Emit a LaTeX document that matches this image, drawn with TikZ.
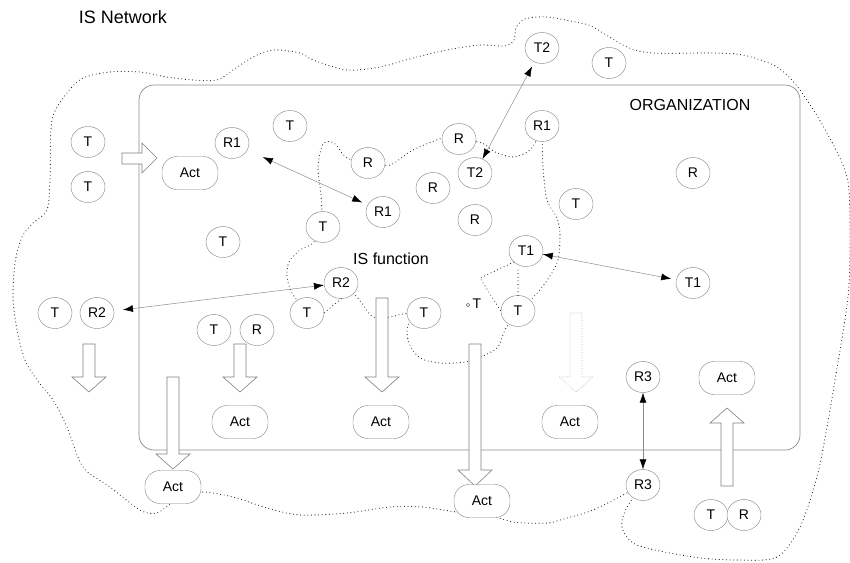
\documentclass[tikz,border=0pt]{standalone}
\usepackage{fontspec}
\setmainfont{Liberation Sans}
\usetikzlibrary{shapes.geometric, arrows.meta}

\tikzset{
  elem/.style={ellipse, draw=black!50, fill=white, minimum width=34pt, minimum height=31pt, inner sep=0pt, font=\fontsize{14}{16}\selectfont},
  actbox/.style={rectangle, rounded corners=15pt, draw=black!50, fill=white, minimum width=56pt, minimum height=33pt, font=\fontsize{14}{16}\selectfont},
  hollow/.style={draw=black!50, fill=white, line width=0.6pt, line join=miter},
  faint/.style={draw=black!25, densely dotted, fill=white, line width=0.6pt},
  link/.style={draw=black!45, line width=0.5pt, <->, >={Latex[length=10pt,width=7pt,color=black]}},
  border/.style={black!90, line width=1.1pt, line cap=round, dash pattern=on 0pt off 3.6pt},
}

\begin{document}
\begin{tikzpicture}[x=1pt, y=-1pt]
  \useasboundingbox (0,0) rectangle (850,562);

  % organization frame
  \draw[draw=black!45, line width=0.7pt, rounded corners=15pt] (139,85) rectangle (800,450);
  \node[font=\fontsize{16}{18}\selectfont] (org) at (690,105) {ORGANIZATION};
  \node[font=\fontsize{18}{20}\selectfont] (isnet) at (123,17) {IS Network};
  \node[font=\fontsize{16}{18}\selectfont] (isfun) at (391,259) {IS function};

  % network boundary
  \draw[border] plot[smooth] coordinates {(643,485) (627,493) (593,510) (560,520) (547,523) (513,522) (481,512)
    (457,512) (423,507) (390,507) (347,513) (300,515) (267,508) (233,497) (200,492) (176,500) (157,513)
    (140,510) (110,487) (83,467) (67,427) (53,400) (37,380) (25,360) (17,330) (13,297) (15,263) (22,237)
    (33,223) (47,210) (50,180) (52,120) (67,93) (83,78) (110,72) (140,72) (167,77) (193,80) (217,80)
    (233,70) (253,57) (273,50) (300,53) (313,60) (347,70) (380,67) (413,58) (447,50) (480,45) (505,46)
    (514,40) (516,28) (525,19) (547,17) (580,23) (593,27) (627,47) (653,53) (710,53) (743,55) (777,67)
    (800,90) (827,133) (847,177) (850,230) (848,297) (835,380) (827,427) (817,477) (800,527) (777,557)
    (737,560) (693,557) (637,545) (622,527) (627,507) (643,485)};

  % function boundary
  \draw[border] plot[smooth] coordinates {(323,227) (321,195) (318,167) (323,144) (334,143) (347,158) (368,163)};
  \draw[border] plot[smooth] coordinates {(368,163) (390,165) (413,150) (443,138) (459,139)};
  \draw[border] plot[smooth] coordinates {(459,139) (482,143) (495,152) (513,157) (530,150) (542,130)};
  \draw[border] plot[smooth] coordinates {(542,130) (543,167) (547,200) (557,218) (560,235) (557,263) (540,290) (518,311)};
  \draw[border] plot[smooth] coordinates {(518,311) (505,330) (498,347) (485,355) (465,362) (440,363) (420,358) (409,343) (408,325) (424,313)};
  \draw[border] plot[smooth] coordinates {(424,313) (403,314) (390,317) (373,317) (357,297) (341,283)};
  \draw[border] plot[smooth] coordinates {(307,313) (292,293) (287,277) (289,262) (300,250) (313,243) (323,227)};

  % hollow arrows
  \draw[hollow] (122,153) -- (142,153) -- (142,143) -- (157,158) -- (142,173) -- (142,164) -- (122,164) -- cycle;
  \draw[hollow] (83,344) -- (95,344) -- (95,377) -- (106,377) -- (89,392) -- (72,377) -- (83,377) -- cycle;
  \draw[hollow] (234,344) -- (246,344) -- (246,377) -- (257,377) -- (240,392) -- (223,377) -- (234,377) -- cycle;
  \draw[hollow] (167,377) -- (179,377) -- (179,454) -- (190,454) -- (173,469) -- (156,454) -- (167,454) -- cycle;
  \draw[hollow] (376,298) -- (388,298) -- (388,377) -- (399,377) -- (382,392) -- (365,377) -- (376,377) -- cycle;
  \draw[hollow] (469,344) -- (481,344) -- (481,470) -- (492,470) -- (475,486) -- (458,470) -- (469,470) -- cycle;
  \draw[faint] (570,313) -- (582,313) -- (582,377) -- (593,377) -- (576,392) -- (559,377) -- (570,377) -- cycle;
  \draw[hollow] (721,486) -- (733,486) -- (733,423) -- (744,423) -- (727,408) -- (710,423) -- (721,423) -- cycle;

  % elements
  \node[elem] (tl1) at (88,142) {T};
  \node[elem] (tl2) at (88,187) {T};
  \node[elem] (ra) at (232,143) {R1};
  \node[elem] (tb) at (290,126) {T};
  \node[actbox] (actin) at (190,173) {Act};
  \node[elem] (rc) at (368,163) {R};
  \node[elem] (rd) at (459,139) {R};
  \node[elem] (tlow) at (475,173) {T2};
  \node[elem] (rb) at (542,126) {R1};
  \node[elem] (tup) at (542,48) {T2};
  \node[elem] (tout) at (609,63) {T};
  \node[elem] (re) at (433,188) {R};
  \node[elem] (rf) at (693,173) {R};
  \node[elem] (rin) at (383,212) {R1};
  \node[elem] (rg) at (475,220) {R};
  \node[elem] (tc) at (576,204) {T};
  \node[elem] (td) at (323,227) {T};
  \node[elem] (te) at (223,242) {T};
  \node[elem] (tfa) at (526,251) {T1};
  \node[elem] (tfb) at (693,283) {T1};
  \node[elem] (rh) at (341,283) {R2};
  \node[elem] (tg) at (55,313) {T};
  \node[elem] (rout) at (97,313) {R2};
  \node[elem] (th) at (307,313) {T};
  \node[elem] (ti) at (424,313) {T};
  \node[elem] (tj) at (518,311) {T};
  \node[elem] (tk) at (214,330) {T};
  \node[elem] (ri) at (257,330) {R};
  \node[elem] (rja) at (643,377) {R3};
  \node[actbox] (acta) at (727,378) {Act};
  \node[actbox] (actb) at (240,422) {Act};
  \node[actbox] (actc) at (381,422) {Act};
  \node[actbox] (actd) at (570,422) {Act};
  \node[actbox] (acte) at (173,487) {Act};
  \node[actbox] (actf) at (482,501) {Act};
  \node[elem] (rjb) at (643,485) {R3};
  \node[elem] (tm) at (711,515) {T};
  \node[elem] (rm) at (744,515) {R};
  \node[circle, draw=black!60, inner sep=0pt, minimum size=3.5pt] (tdot) at (468,305) {};
  \node[font=\fontsize{14}{16}\selectfont, inner sep=0pt] (tsmall) at (477,304) {T};

  % dotted ties
  \coordinate (kink) at (480,278);
  \draw[border] (rh.south) -- (th.east);
  \draw[border] (tj.north) -- (tj.north |- tfa.south);
  \draw[border] (tfa.south west) -- (kink) -- (tj.west);

  % links
  \draw[link, shorten <=17pt, shorten >=6pt] (ra) -- (rin);
  \draw[link, shorten <=5pt] (tup) -- (tlow);
  \draw[link, shorten >=5pt] (tfa) -- (tfb);
  \draw[link, shorten >=9pt] (rh) -- (rout);
  \draw[link] (rja) -- (rjb);
\end{tikzpicture}
\end{document}
